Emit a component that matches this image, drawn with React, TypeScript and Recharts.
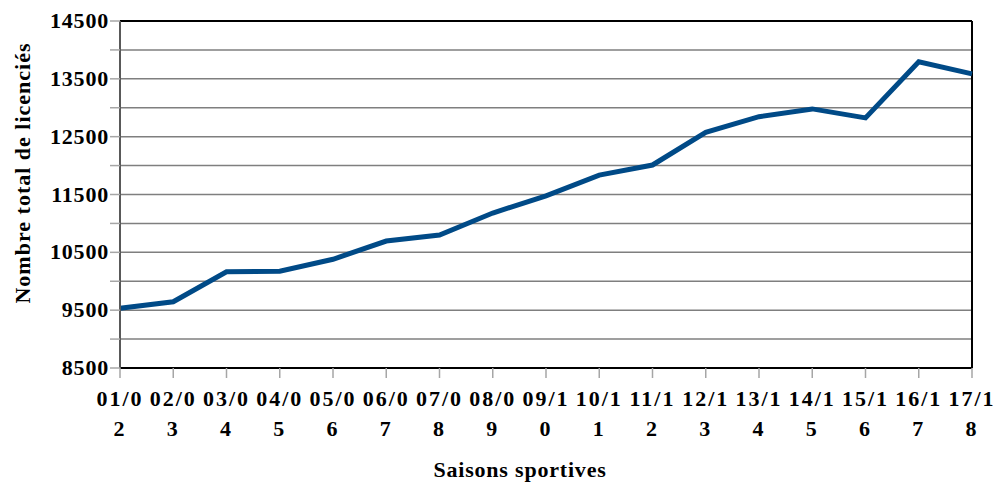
import React from 'react';
import {
  LineChart,
  Line,
  XAxis,
  YAxis,
  CartesianGrid,
  ReferenceLine,
  Label,
} from 'recharts';

const seasons = [
  '01/02', '02/03', '03/04', '04/05', '05/06', '06/07', '07/08', '08/09', '09/10',
  '10/11', '11/12', '12/13', '13/14', '14/15', '15/16', '16/17', '17/18',
];

const licencies = [
  9535, 9645, 10165, 10175, 10380, 10695, 10800, 11180, 11475,
  11835, 12010, 12575, 12845, 12980, 12825, 13795, 13585,
];

const yTicks = [8500, 9000, 9500, 10000, 10500, 11000, 11500, 12000, 12500, 13000, 13500, 14000, 14500];

const FONT = '"Liberation Serif", "DejaVu Serif", serif';
const LINE_COLOR = '#004a87';

const data = seasons.map((s, i) => ({ season: s, total: licencies[i] }));

const YTick = (props: any) => {
  const { x, y, payload } = props;
  if ((payload.value - 8500) % 1000 !== 0) return null;
  return (
    <text
      x={x + 1}
      y={y + 7}
      textAnchor="end"
      fontFamily={FONT}
      fontWeight="bold"
      fontSize={22}
      letterSpacing={0.8}
      fill="#000"
    >
      {payload.value}
    </text>
  );
};

const XTick = (props: any) => {
  const { x, y, payload } = props;
  const v: string = payload.value;
  return (
    <text
      x={x}
      y={y}
      textAnchor="middle"
      fontFamily={FONT}
      fontWeight="bold"
      fontSize={22}
      letterSpacing={2}
      fill="#000"
    >
      <tspan x={x} dy={26}>{v.slice(0, 4)}</tspan>
      <tspan x={x} dy={30}>{v.slice(4)}</tspan>
    </text>
  );
};

export default function App() {
  return (
    <div style={{ position: 'absolute', left: 0, top: 0, width: 998, height: 486, background: '#fff' }}>
      <LineChart
        width={998}
        height={486}
        data={data}
        margin={{ top: 21, right: 26, bottom: 38, left: 0 }}
      >
        <CartesianGrid horizontal vertical={false} stroke="#7f7f7f" strokeWidth={1.5} />
        <XAxis
          dataKey="season"
          height={80}
          interval={0}
          tick={<XTick />}
          tickSize={10}
          tickLine={{ stroke: '#a6a6a6', strokeWidth: 1.5 }}
          axisLine={{ stroke: '#000', strokeWidth: 2 }}
        >
          <Label
            content={() => (
              <text
                x={520}
                y={477}
                textAnchor="middle"
                fontFamily={FONT}
                fontWeight="bold"
                fontSize={22}
                letterSpacing={0.8}
                fill="#000"
              >
                Saisons sportives
              </text>
            )}
          />
        </XAxis>
        <YAxis
          width={120}
          domain={[8500, 14500]}
          ticks={yTicks}
          interval={0}
          tick={<YTick />}
          tickSize={10}
          tickLine={{ stroke: '#a6a6a6', strokeWidth: 1.5 }}
          axisLine={{ stroke: '#595959', strokeWidth: 2 }}
        >
          <Label
            content={() => (
              <text
                x={30}
                y={173}
                transform="rotate(-90 30 173)"
                textAnchor="middle"
                fontFamily={FONT}
                fontWeight="bold"
                fontSize={22}
                letterSpacing={1}
                fill="#000"
              >
                Nombre total de licenciés
              </text>
            )}
          />
        </YAxis>
        <ReferenceLine y={14500} stroke="#000" strokeWidth={2} />
        <ReferenceLine x="17/18" stroke="#000" strokeWidth={2} />
        <Line
          type="linear"
          dataKey="total"
          stroke={LINE_COLOR}
          strokeWidth={5}
          dot={false}
          activeDot={false}
          isAnimationActive={false}
        />
      </LineChart>
    </div>
  );
}
